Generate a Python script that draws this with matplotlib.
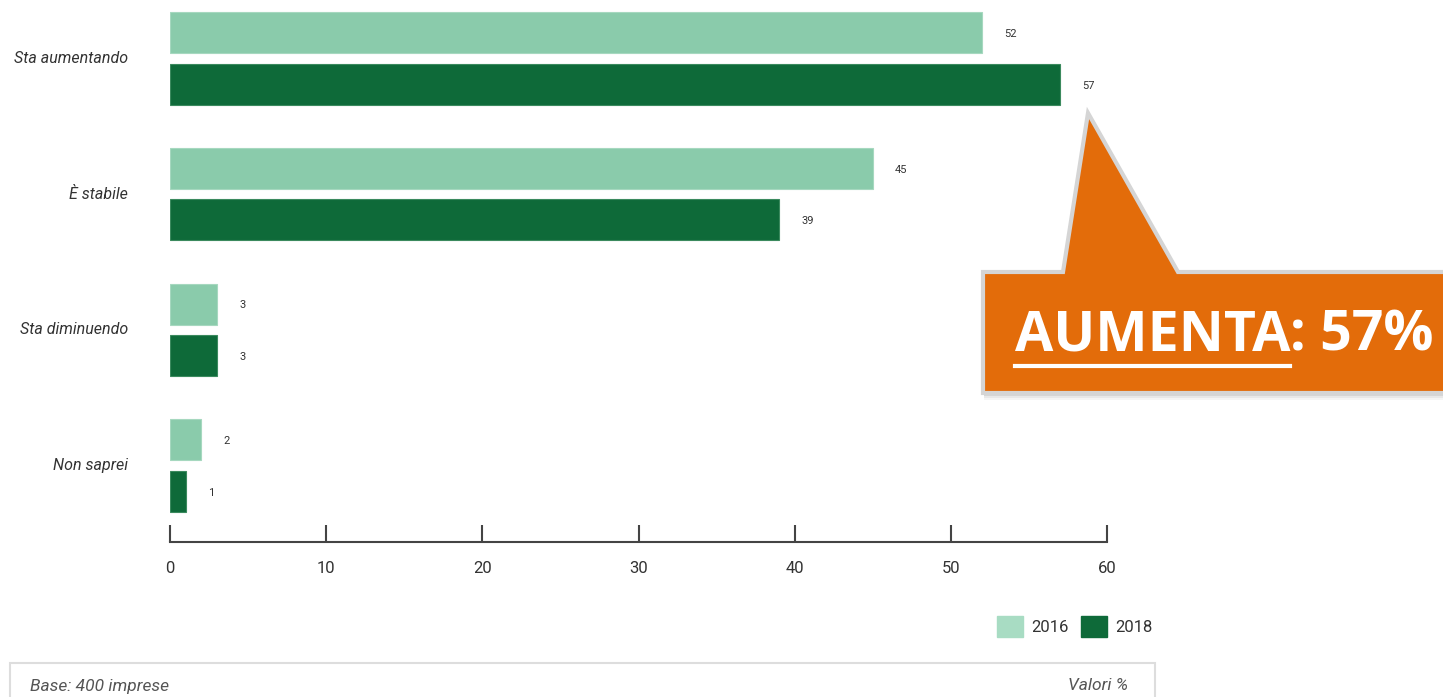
import numpy as np
import matplotlib
matplotlib.use("Agg")
import matplotlib.pyplot as plt
from matplotlib.patches import Polygon, Rectangle

# Survey answers and percentages per year
categories = ["Sta aumentando", "È stabile", "Sta diminuendo", "Non saprei"]
years = ["2016", "2018"]
values_2016 = [52, 45, 3, 2]
values_2018 = [57, 39, 3, 1]
x_ticks = [0, 10, 20, 30, 40, 50, 60]
callout_word = "AUMENTA"
callout_value = values_2018[0]

light_green = "#8acbab"
dark_green = "#0e6a39"
text_color = "#333333"

W, H = 1443, 697
fig = plt.figure(figsize=(W / 100, H / 100), dpi=100)
plt.rcParams['font.family'] = ['Roboto', 'DejaVu Sans']


def px(x, y):
    # pixel position (from top-left) to figure fraction
    return x / W, 1 - y / H


ax = fig.add_axes([170 / W, 1 - 542 / H, (1107 - 170) / W, 542 / H])

y = np.arange(len(categories))
bar_h = 0.302
off = 0.19
bars_a = ax.barh(y - off, values_2016, height=bar_h, color=light_green,
                 edgecolor="#a6d8bf", linewidth=0.8, label=years[0])
bars_b = ax.barh(y + off, values_2018, height=bar_h, color=dark_green,
                 edgecolor="#3b8a5e", linewidth=0.8, label=years[1])

for bars, vals in [(bars_a, values_2016), (bars_b, values_2018)]:
    for b, v in zip(bars, vals):
        ax.annotate(str(v), (v, b.get_y() + b.get_height() / 2),
                    xytext=(16, -1), textcoords="offset points",
                    ha="left", va="center", fontsize=8, color=text_color)

ax.set_xlim(0, 60)
ax.set_ylim(3.564, -0.431)
ax.set_xticks(x_ticks)
ax.set_yticks([])
for side in ["top", "right", "left"]:
    ax.spines[side].set_visible(False)
ax.spines["bottom"].set_color("#444444")
ax.spines["bottom"].set_linewidth(1.5)
ax.tick_params(axis="x", direction="in", length=12, width=1.5, color="#444444",
               pad=14, labelsize=12, labelcolor=text_color)

for i, cat in enumerate(categories):
    ax.text(-2.7, i, cat, ha="right", va="center",
            fontsize=11.5, style="italic", color=text_color)

# legend
ax.legend(handles=[Rectangle((0, 0), 1, 1, color="#a8dcc3"),
                   Rectangle((0, 0), 1, 1, color=dark_green)],
          labels=years, loc="upper right", bbox_to_anchor=(1168 / W, 1 - 601 / H),
          bbox_transform=fig.transFigure, ncol=2, frameon=False,
          handlelength=1.6, handleheight=1.6, handletextpad=0.5,
          columnspacing=0.7, fontsize=12, labelcolor=text_color)

# footer box
x0, y0 = px(10, 697 + 5)
x1, y1 = px(1155, 663)
fig.patches.append(Rectangle((x0, y0), x1 - x0, y1 - y0, transform=fig.transFigure,
                             facecolor="white", edgecolor="#dddddd", linewidth=1.5))
fig.text(*px(30, 686), "Base: 400 imprese", ha="left", va="center",
         fontsize=12.5, style="italic", color="#555555")
fig.text(*px(1128, 686), "Valori %", ha="right", va="center",
         fontsize=12.5, style="italic", color="#555555")

# orange callout pointing at the 2018 value
shape = [(983, 393), (983, 272), (1063, 272), (1088, 113), (1178, 272),
         (1460, 272), (1460, 393)]
for d, a in [(7, 0.04), (5, 0.05), (3, 0.07)]:
    sh = [px(x + 1, yy + d) for x, yy in shape]
    fig.patches.append(Polygon(sh, closed=True, transform=fig.transFigure,
                               facecolor="black", alpha=a, edgecolor="none"))
fig.patches.append(Polygon([px(x, yy) for x, yy in shape], closed=True,
                           transform=fig.transFigure, facecolor="#e36c0a",
                           edgecolor="#d5d5d5", linewidth=3, joinstyle="miter"))

word = fig.text(*px(1015, 350), callout_word, ha="left", va="baseline",
                fontsize=40, fontweight="bold", color="white",
                family=["Open Sans", "DejaVu Sans"])
fig.canvas.draw()
bb = word.get_window_extent()
fig.text(bb.x1 / W, 1 - 350 / H, f": {callout_value}%", ha="left", va="baseline",
         fontsize=40, fontweight="bold", color="white",
         family=["Open Sans", "DejaVu Sans"])
ux0, uy = px(1015, 366)
fig.add_artist(plt.Line2D([ux0, bb.x1 / W], [uy, uy], transform=fig.transFigure,
                          color="white", linewidth=3))

fig.savefig("out.png", dpi=100)
